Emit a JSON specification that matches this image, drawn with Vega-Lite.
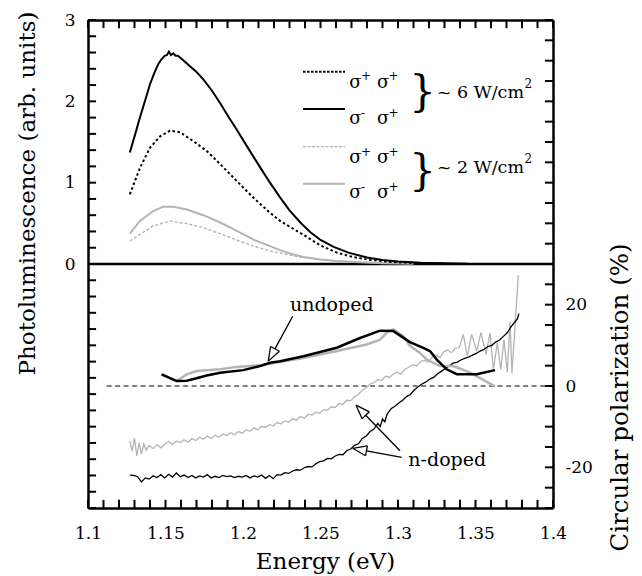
{
  "$schema": "https://vega.github.io/schema/vega-lite/v6.json",
  "width": 465,
  "height": 488,
  "autosize": "none",
  "padding": {"left": 88, "top": 20, "right": 89, "bottom": 68},
  "background": "white",
  "config": {
    "font": "DejaVu Serif",
    "view": {"stroke": null},
    "axis": {
      "labelFont": "DejaVu Serif",
      "titleFont": "DejaVu Serif",
      "labelFontSize": 17,
      "titleFontSize": 23,
      "titleFontWeight": "normal",
      "labelColor": "black",
      "titleColor": "black",
      "domainColor": "black",
      "domainWidth": 2.5,
      "ticks": false,
      "tickSize": 0,
      "grid": false,
      "labelFlush": false,
      "labelOverlap": false
    }
  },
  "datasets": {
    "xtick": [
      {"e":1.1,"pl":-3,"pl2":-2.9},{"e":1.11,"pl":-3,"pl2":-2.9},{"e":1.12,"pl":-3,"pl2":-2.9},{"e":1.13,"pl":-3,"pl2":-2.9},
      {"e":1.14,"pl":-3,"pl2":-2.9},{"e":1.15,"pl":-3,"pl2":-2.9},{"e":1.16,"pl":-3,"pl2":-2.9},{"e":1.17,"pl":-3,"pl2":-2.9},
      {"e":1.18,"pl":-3,"pl2":-2.9},{"e":1.19,"pl":-3,"pl2":-2.9},{"e":1.2,"pl":-3,"pl2":-2.9},{"e":1.21,"pl":-3,"pl2":-2.9},
      {"e":1.22,"pl":-3,"pl2":-2.9},{"e":1.23,"pl":-3,"pl2":-2.9},{"e":1.24,"pl":-3,"pl2":-2.9},{"e":1.25,"pl":-3,"pl2":-2.9},
      {"e":1.26,"pl":-3,"pl2":-2.9},{"e":1.27,"pl":-3,"pl2":-2.9},{"e":1.28,"pl":-3,"pl2":-2.9},{"e":1.29,"pl":-3,"pl2":-2.9},
      {"e":1.3,"pl":-3,"pl2":-2.9},{"e":1.31,"pl":-3,"pl2":-2.9},{"e":1.32,"pl":-3,"pl2":-2.9},{"e":1.33,"pl":-3,"pl2":-2.9},
      {"e":1.34,"pl":-3,"pl2":-2.9},{"e":1.35,"pl":-3,"pl2":-2.9},{"e":1.36,"pl":-3,"pl2":-2.9},{"e":1.37,"pl":-3,"pl2":-2.9},
      {"e":1.38,"pl":-3,"pl2":-2.9},{"e":1.39,"pl":-3,"pl2":-2.9},{"e":1.4,"pl":-3,"pl2":-2.9},
      {"e":1.1,"pl":3,"pl2":2.9},{"e":1.11,"pl":3,"pl2":2.9},{"e":1.12,"pl":3,"pl2":2.9},{"e":1.13,"pl":3,"pl2":2.9},
      {"e":1.14,"pl":3,"pl2":2.9},{"e":1.15,"pl":3,"pl2":2.9},{"e":1.16,"pl":3,"pl2":2.9},{"e":1.17,"pl":3,"pl2":2.9},
      {"e":1.18,"pl":3,"pl2":2.9},{"e":1.19,"pl":3,"pl2":2.9},{"e":1.2,"pl":3,"pl2":2.9},{"e":1.21,"pl":3,"pl2":2.9},
      {"e":1.22,"pl":3,"pl2":2.9},{"e":1.23,"pl":3,"pl2":2.9},{"e":1.24,"pl":3,"pl2":2.9},{"e":1.25,"pl":3,"pl2":2.9},
      {"e":1.26,"pl":3,"pl2":2.9},{"e":1.27,"pl":3,"pl2":2.9},{"e":1.28,"pl":3,"pl2":2.9},{"e":1.29,"pl":3,"pl2":2.9},
      {"e":1.3,"pl":3,"pl2":2.9},{"e":1.31,"pl":3,"pl2":2.9},{"e":1.32,"pl":3,"pl2":2.9},{"e":1.33,"pl":3,"pl2":2.9},
      {"e":1.34,"pl":3,"pl2":2.9},{"e":1.35,"pl":3,"pl2":2.9},{"e":1.36,"pl":3,"pl2":2.9},{"e":1.37,"pl":3,"pl2":2.9},
      {"e":1.38,"pl":3,"pl2":2.9},{"e":1.39,"pl":3,"pl2":2.9},{"e":1.4,"pl":3,"pl2":2.9}
    ],
    "ltick": [
      {"e":1.1,"e2":1.1052,"pl":-3},{"e":1.1,"e2":1.1052,"pl":-2.8},{"e":1.1,"e2":1.1052,"pl":-2.6},{"e":1.1,"e2":1.1052,"pl":-2.4},
      {"e":1.1,"e2":1.1052,"pl":-2.2},{"e":1.1,"e2":1.1052,"pl":-2},{"e":1.1,"e2":1.1052,"pl":-1.8},{"e":1.1,"e2":1.1052,"pl":-1.6},
      {"e":1.1,"e2":1.1052,"pl":-1.4},{"e":1.1,"e2":1.1052,"pl":-1.2},{"e":1.1,"e2":1.1052,"pl":-1},{"e":1.1,"e2":1.1052,"pl":-0.8},
      {"e":1.1,"e2":1.1052,"pl":-0.6},{"e":1.1,"e2":1.1052,"pl":-0.4},{"e":1.1,"e2":1.1052,"pl":-0.2},{"e":1.1,"e2":1.1052,"pl":0},
      {"e":1.1,"e2":1.1052,"pl":0.2},{"e":1.1,"e2":1.1052,"pl":0.4},{"e":1.1,"e2":1.1052,"pl":0.6},{"e":1.1,"e2":1.1052,"pl":0.8},
      {"e":1.1,"e2":1.1052,"pl":1},{"e":1.1,"e2":1.1052,"pl":1.2},{"e":1.1,"e2":1.1052,"pl":1.4},{"e":1.1,"e2":1.1052,"pl":1.6},
      {"e":1.1,"e2":1.1052,"pl":1.8},{"e":1.1,"e2":1.1052,"pl":2},{"e":1.1,"e2":1.1052,"pl":2.2},{"e":1.1,"e2":1.1052,"pl":2.4},
      {"e":1.1,"e2":1.1052,"pl":2.6},{"e":1.1,"e2":1.1052,"pl":2.8},{"e":1.1,"e2":1.1052,"pl":3}
    ],
    "rtick": [
      {"e":1.3948,"e2":1.4,"cp":-30},{"e":1.3948,"e2":1.4,"cp":-25},{"e":1.3948,"e2":1.4,"cp":-20},{"e":1.3948,"e2":1.4,"cp":-15},
      {"e":1.3948,"e2":1.4,"cp":-10},{"e":1.3948,"e2":1.4,"cp":-5},{"e":1.3948,"e2":1.4,"cp":0},{"e":1.3948,"e2":1.4,"cp":5},
      {"e":1.3948,"e2":1.4,"cp":10},{"e":1.3948,"e2":1.4,"cp":15},{"e":1.3948,"e2":1.4,"cp":20},{"e":1.3948,"e2":1.4,"cp":25},
      {"e":1.3948,"e2":1.4,"cp":30},{"e":1.3948,"e2":1.4,"cp":35},{"e":1.3948,"e2":1.4,"cp":40},{"e":1.3948,"e2":1.4,"cp":45},
      {"e":1.3948,"e2":1.4,"cp":50},{"e":1.3948,"e2":1.4,"cp":55},{"e":1.3948,"e2":1.4,"cp":60},{"e":1.3948,"e2":1.4,"cp":65},
      {"e":1.3948,"e2":1.4,"cp":70},{"e":1.3948,"e2":1.4,"cp":75},{"e":1.3948,"e2":1.4,"cp":80},{"e":1.3948,"e2":1.4,"cp":85},
      {"e":1.3948,"e2":1.4,"cp":90}
    ],
    "k6s": [
      {"e":1.127,"pl":1.37},{"e":1.1305,"pl":1.60},{"e":1.1335,"pl":1.80},{"e":1.137,"pl":2.02},{"e":1.140,"pl":2.21},
      {"e":1.1428,"pl":2.35},{"e":1.1454,"pl":2.46},{"e":1.1475,"pl":2.52},{"e":1.1495,"pl":2.56},{"e":1.151,"pl":2.57},
      {"e":1.1522,"pl":2.61},{"e":1.1535,"pl":2.57},{"e":1.155,"pl":2.59},{"e":1.1565,"pl":2.56},{"e":1.158,"pl":2.56},
      {"e":1.1618,"pl":2.50},{"e":1.1658,"pl":2.43},{"e":1.170,"pl":2.36},{"e":1.1744,"pl":2.27},{"e":1.180,"pl":2.13},
      {"e":1.1852,"pl":1.98},{"e":1.190,"pl":1.83},{"e":1.196,"pl":1.65},{"e":1.2015,"pl":1.48},{"e":1.2067,"pl":1.32},
      {"e":1.212,"pl":1.16},{"e":1.2174,"pl":1.00},{"e":1.2239,"pl":0.82},{"e":1.230,"pl":0.66},{"e":1.237,"pl":0.51},
      {"e":1.2435,"pl":0.39},{"e":1.25,"pl":0.295},{"e":1.2585,"pl":0.21},{"e":1.268,"pl":0.14},{"e":1.28,"pl":0.08},
      {"e":1.29,"pl":0.05},{"e":1.30,"pl":0.03},{"e":1.315,"pl":0.015},{"e":1.33,"pl":0.008},{"e":1.345,"pl":0.003}
    ],
    "k6d": [
      {"e":1.127,"pl":0.857},{"e":1.1335,"pl":1.18},{"e":1.140,"pl":1.43},{"e":1.1465,"pl":1.57},{"e":1.1529,"pl":1.64},
      {"e":1.1594,"pl":1.62},{"e":1.168,"pl":1.51},{"e":1.1766,"pl":1.39},{"e":1.1852,"pl":1.23},{"e":1.196,"pl":1.02},
      {"e":1.2067,"pl":0.815},{"e":1.2174,"pl":0.63},{"e":1.2239,"pl":0.53},{"e":1.23,"pl":0.46},{"e":1.239,"pl":0.36},
      {"e":1.2497,"pl":0.23},{"e":1.2605,"pl":0.14},{"e":1.271,"pl":0.085},{"e":1.282,"pl":0.05},{"e":1.295,"pl":0.025},
      {"e":1.31,"pl":0.012},{"e":1.33,"pl":0.004}
    ],
    "g2s": [
      {"e":1.127,"pl":0.373},{"e":1.1335,"pl":0.53},{"e":1.142,"pl":0.65},{"e":1.1486,"pl":0.705},{"e":1.155,"pl":0.705},
      {"e":1.1637,"pl":0.67},{"e":1.1744,"pl":0.60},{"e":1.1852,"pl":0.51},{"e":1.196,"pl":0.406},{"e":1.2067,"pl":0.30},
      {"e":1.2174,"pl":0.22},{"e":1.2239,"pl":0.17},{"e":1.232,"pl":0.12},{"e":1.239,"pl":0.085},{"e":1.25,"pl":0.055},
      {"e":1.26,"pl":0.037},{"e":1.275,"pl":0.02},{"e":1.29,"pl":0.01},{"e":1.31,"pl":0.004}
    ],
    "g2d": [
      {"e":1.127,"pl":0.283},{"e":1.1335,"pl":0.365},{"e":1.142,"pl":0.467},{"e":1.1529,"pl":0.53},{"e":1.1637,"pl":0.496},
      {"e":1.1744,"pl":0.447},{"e":1.1852,"pl":0.373},{"e":1.196,"pl":0.295},{"e":1.2067,"pl":0.22},{"e":1.2174,"pl":0.16},
      {"e":1.2239,"pl":0.135},{"e":1.235,"pl":0.09},{"e":1.25,"pl":0.055},{"e":1.265,"pl":0.032},{"e":1.28,"pl":0.018},
      {"e":1.30,"pl":0.008}
    ],
    "ub": [
      {"e":1.1475,"cp":2.86},{"e":1.1572,"cp":1.22},{"e":1.1637,"cp":1.3},{"e":1.170,"cp":1.9},{"e":1.1766,"cp":2.6},
      {"e":1.1852,"cp":3.28},{"e":1.2002,"cp":3.9},{"e":1.211,"cp":4.9},{"e":1.2174,"cp":5.7},{"e":1.2239,"cp":6.1},
      {"e":1.239,"cp":7.3},{"e":1.2605,"cp":9.4},{"e":1.2755,"cp":11.8},{"e":1.2884,"cp":13.6},{"e":1.297,"cp":13.5},
      {"e":1.3077,"cp":10.8},{"e":1.3163,"cp":9.4},{"e":1.3206,"cp":8.6},{"e":1.325,"cp":6.5},{"e":1.3314,"cp":4.1},
      {"e":1.3379,"cp":2.9},{"e":1.3508,"cp":2.9},{"e":1.3626,"cp":3.9}
    ],
    "ug": [
      {"e":1.1475,"cp":2.86},{"e":1.1572,"cp":1.22},{"e":1.1637,"cp":2.86},{"e":1.1701,"cp":3.67},{"e":1.1852,"cp":4.1},
      {"e":1.196,"cp":4.7},{"e":1.211,"cp":5.1},{"e":1.2239,"cp":5.9},{"e":1.239,"cp":6.9},{"e":1.2605,"cp":8.6},
      {"e":1.2798,"cp":10.2},{"e":1.2884,"cp":11.4},{"e":1.2938,"cp":13.5},{"e":1.297,"cp":13.9},{"e":1.3035,"cp":12.2},
      {"e":1.3077,"cp":9.9},{"e":1.314,"cp":8.2},{"e":1.3185,"cp":6.5},{"e":1.3271,"cp":4.9},{"e":1.3357,"cp":4.9},
      {"e":1.3465,"cp":3.3},{"e":1.3626,"cp":-0.1}
    ],
    "nb": [
      {"e":1.1270,"cp":-21.9},{"e":1.1295,"cp":-22.0},{"e":1.1320,"cp":-22.3},{"e":1.1345,"cp":-23.6},{"e":1.1370,"cp":-22.6},
      {"e":1.1395,"cp":-22.9},{"e":1.1420,"cp":-22.1},{"e":1.1445,"cp":-22.5},{"e":1.1470,"cp":-21.8},{"e":1.1495,"cp":-22.6},
      {"e":1.1520,"cp":-21.7},{"e":1.1545,"cp":-22.4},{"e":1.1570,"cp":-21.4},{"e":1.1595,"cp":-22.3},{"e":1.1620,"cp":-21.9},
      {"e":1.1645,"cp":-22.5},{"e":1.1670,"cp":-22.0},{"e":1.1695,"cp":-22.6},{"e":1.1720,"cp":-22.1},{"e":1.1745,"cp":-22.4},
      {"e":1.1770,"cp":-21.8},{"e":1.1795,"cp":-22.6},{"e":1.1820,"cp":-22.2},{"e":1.1845,"cp":-22.5},{"e":1.1870,"cp":-22.0},
      {"e":1.1895,"cp":-22.3},{"e":1.1920,"cp":-22.1},{"e":1.1945,"cp":-22.5},{"e":1.1970,"cp":-22.2},{"e":1.1995,"cp":-22.4},
      {"e":1.2020,"cp":-22.0},{"e":1.2045,"cp":-22.6},{"e":1.2070,"cp":-22.1},{"e":1.2095,"cp":-22.4},{"e":1.2120,"cp":-21.9},
      {"e":1.2145,"cp":-22.7},{"e":1.2170,"cp":-22.0},{"e":1.2195,"cp":-22.8},{"e":1.2220,"cp":-21.8},{"e":1.2245,"cp":-21.9},
      {"e":1.2270,"cp":-21.3},{"e":1.2295,"cp":-21.5},{"e":1.2320,"cp":-20.9},{"e":1.2345,"cp":-20.6},{"e":1.2370,"cp":-20.7},
      {"e":1.2395,"cp":-20.1},{"e":1.2420,"cp":-19.8},{"e":1.2445,"cp":-19.9},{"e":1.2470,"cp":-19.1},{"e":1.2495,"cp":-18.6},
      {"e":1.2520,"cp":-18.4},{"e":1.2545,"cp":-17.8},{"e":1.2570,"cp":-17.9},{"e":1.2595,"cp":-17.2},{"e":1.2620,"cp":-16.8},
      {"e":1.2645,"cp":-16.9},{"e":1.2670,"cp":-15.9},{"e":1.2695,"cp":-15.5},{"e":1.2720,"cp":-14.6},{"e":1.2745,"cp":-14.2},
      {"e":1.2770,"cp":-12.9},{"e":1.2795,"cp":-12.3},{"e":1.2820,"cp":-11.2},{"e":1.2845,"cp":-10.6},{"e":1.2870,"cp":-9.2},
      {"e":1.2885,"cp":-10.0},{"e":1.2900,"cp":-8.1},{"e":1.2915,"cp":-8.8},{"e":1.2930,"cp":-6.9},{"e":1.2955,"cp":-5.6},
      {"e":1.2980,"cp":-5.0},{"e":1.3005,"cp":-4.2},{"e":1.3030,"cp":-3.5},{"e":1.3055,"cp":-2.6},{"e":1.3080,"cp":-2.1},
      {"e":1.3105,"cp":-1.0},{"e":1.3130,"cp":-0.2},{"e":1.3155,"cp":0.5},{"e":1.3180,"cp":1.0},{"e":1.3205,"cp":1.7},
      {"e":1.3230,"cp":2.1},{"e":1.3255,"cp":3.0},{"e":1.3280,"cp":3.6},{"e":1.3305,"cp":4.3},{"e":1.3330,"cp":4.9},
      {"e":1.3355,"cp":5.6},{"e":1.3380,"cp":5.8},{"e":1.3405,"cp":6.4},{"e":1.3430,"cp":6.8},{"e":1.3455,"cp":7.1},
      {"e":1.3480,"cp":7.6},{"e":1.3505,"cp":8.0},{"e":1.3530,"cp":8.6},{"e":1.3555,"cp":9.0},{"e":1.3580,"cp":9.7},
      {"e":1.3605,"cp":10.0},{"e":1.3630,"cp":10.8},{"e":1.3655,"cp":11.3},{"e":1.3680,"cp":12.2},{"e":1.3705,"cp":13.1},
      {"e":1.3730,"cp":14.6},{"e":1.3755,"cp":15.8},{"e":1.3770,"cp":16.5},{"e":1.3780,"cp":17.8}
    ],
    "ng": [
      {"e":1.1270,"cp":-13.5},{"e":1.1285,"cp":-16.0},{"e":1.1300,"cp":-12.8},{"e":1.1315,"cp":-17.2},{"e":1.1330,"cp":-14.0},
      {"e":1.1345,"cp":-16.8},{"e":1.1360,"cp":-14.2},{"e":1.1375,"cp":-15.8},{"e":1.1395,"cp":-14.6},{"e":1.1420,"cp":-15.4},
      {"e":1.1445,"cp":-14.4},{"e":1.1470,"cp":-15.2},{"e":1.1495,"cp":-14.3},{"e":1.1520,"cp":-13.6},{"e":1.1545,"cp":-14.4},
      {"e":1.1570,"cp":-13.5},{"e":1.1595,"cp":-13.9},{"e":1.1620,"cp":-13.2},{"e":1.1645,"cp":-13.8},{"e":1.1670,"cp":-12.9},
      {"e":1.1695,"cp":-13.4},{"e":1.1720,"cp":-12.6},{"e":1.1745,"cp":-13.1},{"e":1.1770,"cp":-12.3},{"e":1.1795,"cp":-12.9},
      {"e":1.1820,"cp":-12.1},{"e":1.1845,"cp":-12.6},{"e":1.1870,"cp":-11.8},{"e":1.1895,"cp":-12.2},{"e":1.1920,"cp":-11.5},
      {"e":1.1945,"cp":-12.0},{"e":1.1970,"cp":-11.2},{"e":1.1995,"cp":-11.6},{"e":1.2020,"cp":-10.8},{"e":1.2045,"cp":-11.1},
      {"e":1.2070,"cp":-10.3},{"e":1.2095,"cp":-10.8},{"e":1.2120,"cp":-9.9},{"e":1.2145,"cp":-10.2},{"e":1.2170,"cp":-9.5},
      {"e":1.2195,"cp":-9.8},{"e":1.2220,"cp":-9.0},{"e":1.2245,"cp":-9.3},{"e":1.2270,"cp":-8.6},{"e":1.2295,"cp":-8.9},
      {"e":1.2320,"cp":-8.0},{"e":1.2345,"cp":-8.4},{"e":1.2370,"cp":-7.5},{"e":1.2395,"cp":-7.9},{"e":1.2420,"cp":-7.0},
      {"e":1.2445,"cp":-7.1},{"e":1.2470,"cp":-6.4},{"e":1.2495,"cp":-6.7},{"e":1.2520,"cp":-5.8},{"e":1.2545,"cp":-6.0},
      {"e":1.2570,"cp":-5.1},{"e":1.2595,"cp":-5.3},{"e":1.2620,"cp":-4.3},{"e":1.2645,"cp":-4.5},{"e":1.2670,"cp":-3.5},
      {"e":1.2695,"cp":-3.6},{"e":1.2720,"cp":-2.6},{"e":1.2745,"cp":-2.1},{"e":1.2770,"cp":-1.0},{"e":1.2795,"cp":-0.4},
      {"e":1.2820,"cp":0.5},{"e":1.2845,"cp":0.8},{"e":1.2870,"cp":1.6},{"e":1.2895,"cp":1.4},{"e":1.2920,"cp":2.4},
      {"e":1.2945,"cp":2.1},{"e":1.2970,"cp":3.0},{"e":1.2995,"cp":3.4},{"e":1.3020,"cp":2.9},{"e":1.3045,"cp":4.2},
      {"e":1.3070,"cp":4.6},{"e":1.3095,"cp":5.3},{"e":1.3120,"cp":4.9},{"e":1.3145,"cp":6.0},{"e":1.3170,"cp":6.3},
      {"e":1.3195,"cp":5.9},{"e":1.3220,"cp":7.1},{"e":1.3245,"cp":7.6},{"e":1.3270,"cp":7.0},{"e":1.3295,"cp":8.4},
      {"e":1.3320,"cp":8.9},{"e":1.3345,"cp":8.2},{"e":1.3370,"cp":9.3},{"e":1.3395,"cp":9.4},{"e":1.3421,"cp":12.7},
      {"e":1.3447,"cp":7.3},{"e":1.3475,"cp":12.7},{"e":1.3508,"cp":8.6},{"e":1.3535,"cp":13.1},{"e":1.3568,"cp":7.8},
      {"e":1.3594,"cp":13.1},{"e":1.3615,"cp":4.1},{"e":1.3641,"cp":10.6},{"e":1.3663,"cp":4.1},{"e":1.3684,"cp":11.4},
      {"e":1.3705,"cp":3.4},{"e":1.3723,"cp":15.9},{"e":1.3735,"cp":3.1},{"e":1.3755,"cp":14.7},{"e":1.3776,"cp":27.3}
    ],
    "sig": [
      {"e":1.26858,"pl":2.165,"t":"σ"},{"e":1.28645,"pl":2.165,"t":"σ"},
      {"e":1.26858,"pl":1.718,"t":"σ"},{"e":1.28645,"pl":1.718,"t":"σ"},
      {"e":1.26858,"pl":1.239,"t":"σ"},{"e":1.28645,"pl":1.239,"t":"σ"},
      {"e":1.26858,"pl":0.808,"t":"σ"},{"e":1.28645,"pl":0.808,"t":"σ"}
    ],
    "sup": [
      {"e":1.27613,"pl":2.257,"t":"+"},{"e":1.29387,"pl":2.257,"t":"+"},
      {"e":1.27613,"pl":1.810,"t":"-"},{"e":1.29387,"pl":1.810,"t":"+"},
      {"e":1.27613,"pl":1.331,"t":"+"},{"e":1.29387,"pl":1.331,"t":"+"},
      {"e":1.27613,"pl":0.900,"t":"-"},{"e":1.29387,"pl":0.900,"t":"+"}
    ],
    "brace": [
      {"e":1.3158,"pl":1.944,"t":"}"},{"e":1.3158,"pl":0.975,"t":"}"}
    ],
    "power": [
      {"e":1.38129,"pl":2.046,"t":"~ 6 W/cm"},{"e":1.38129,"pl":1.123,"t":"~ 2 W/cm"}
    ],
    "powsup": [
      {"e":1.3816,"pl":2.166,"t":"2"},{"e":1.3816,"pl":1.243,"t":"2"}
    ],
    "notes": [
      {"e":1.2303,"cp":18.36,"t":"undoped"},{"e":1.30665,"cp":-19.58,"t":"n-doped"}
    ],
    "arrows": [
      {"e":1.23206,"cp":17.14,"e2":1.22062,"cp2":9.13},
      {"e":1.21632,"cp":6.12,"e2":1.22346,"cp2":8.55},
      {"e":1.21632,"cp":6.12,"e2":1.21779,"cp2":9.71},
      {"e":1.22346,"cp":8.55,"e2":1.21779,"cp2":9.71},
      {"e":1.30239,"cp":-17.53,"e2":1.27966,"cp2":-15.94},
      {"e":1.27077,"cp":-15.32,"e2":1.28024,"cp2":-14.74},
      {"e":1.27077,"cp":-15.32,"e2":1.27908,"cp2":-17.15},
      {"e":1.28024,"cp":-14.74,"e2":1.27908,"cp2":-17.15},
      {"e":1.30129,"cp":-15.91,"e2":1.27917,"cp2":-7.19},
      {"e":1.27290,"cp":-4.72,"e2":1.28149,"cp2":-6.35},
      {"e":1.27290,"cp":-4.72,"e2":1.27685,"cp2":-8.04},
      {"e":1.28149,"cp":-6.35,"e2":1.27685,"cp2":-8.04}
    ]
  },
  "layer": [
    {
      "encoding": {
        "x": {
          "field": "e", "type": "quantitative",
          "scale": {"domain": [1.1, 1.4], "nice": false, "zero": false},
          "axis": {
            "orient": "bottom",
            "title": "Energy (eV)",
            "values": [1.1,1.15,1.2,1.25,1.3,1.35,1.4],
            "labelExpr": "format(datum.value, '.2~f')",
            "labelPadding": 17,
            "labelBaseline": "top",
            "titleX": 237,
            "titleY": 60,
            "titleAlign": "center",
            "titleBaseline": "alphabetic"
          }
        },
        "y": {
          "field": "pl", "type": "quantitative",
          "scale": {"domain": [-3, 3], "nice": false, "zero": false},
          "axis": {
            "orient": "left",
            "title": "Photoluminescence (arb. units)",
            "values": [0, 1, 2, 3],
            "labelExpr": "format(datum.value, 'd')",
            "labelPadding": 13,
            "titleAngle": 270,
            "titleX": -61,
            "titleY": 173,
            "titleAlign": "center",
            "titleBaseline": "middle"
          }
        }
      },
      "layer": [
        {"data": {"values": [{"e": 1.1, "e2": 1.4, "pl": 0}]}, "mark": {"type": "rule", "color": "black", "strokeWidth": 2.5}, "encoding": {"x2": {"field": "e2"}}},
        {"data": {"name": "g2d"}, "mark": {"type": "line", "color": "#b4b4b4", "strokeWidth": 1.4, "strokeDash": [3, 2]}},
        {"data": {"name": "g2s"}, "mark": {"type": "line", "color": "#b4b4b4", "strokeWidth": 2}},
        {"data": {"name": "k6d"}, "mark": {"type": "line", "color": "black", "strokeWidth": 2, "strokeDash": [2.5, 2.5]}},
        {"data": {"name": "k6s"}, "mark": {"type": "line", "color": "black", "strokeWidth": 2}},
        {"data": {"values": [{"e": 1.2387, "e2": 1.2658, "pl": 2.365}]}, "mark": {"type": "rule", "color": "black", "strokeWidth": 2, "strokeDash": [2.5, 1.5]}, "encoding": {"x2": {"field": "e2"}}},
        {"data": {"values": [{"e": 1.2387, "e2": 1.2658, "pl": 1.906}]}, "mark": {"type": "rule", "color": "black", "strokeWidth": 2}, "encoding": {"x2": {"field": "e2"}}},
        {"data": {"values": [{"e": 1.2387, "e2": 1.2658, "pl": 1.443}]}, "mark": {"type": "rule", "color": "#b4b4b4", "strokeWidth": 1.4, "strokeDash": [3, 1.5]}, "encoding": {"x2": {"field": "e2"}}},
        {"data": {"values": [{"e": 1.2387, "e2": 1.2658, "pl": 0.988}]}, "mark": {"type": "rule", "color": "#b4b4b4", "strokeWidth": 2}, "encoding": {"x2": {"field": "e2"}}},
        {"data": {"name": "sig"}, "mark": {"type": "text", "align": "left", "baseline": "alphabetic", "fontSize": 18, "font": "DejaVu Serif", "color": "black"}, "encoding": {"text": {"field": "t"}}},
        {"data": {"name": "sup"}, "mark": {"type": "text", "align": "left", "baseline": "alphabetic", "fontSize": 12, "font": "DejaVu Serif", "color": "black"}, "encoding": {"text": {"field": "t"}}},
        {"data": {"name": "brace"}, "mark": {"type": "text", "align": "center", "baseline": "alphabetic", "fontSize": 42, "font": "DejaVu Serif", "color": "black"}, "encoding": {"text": {"field": "t"}}},
        {"data": {"name": "power"}, "mark": {"type": "text", "align": "right", "baseline": "alphabetic", "fontSize": 17.5, "font": "DejaVu Serif", "color": "black"}, "encoding": {"text": {"field": "t"}}},
        {"data": {"name": "powsup"}, "mark": {"type": "text", "align": "left", "baseline": "alphabetic", "fontSize": 12, "font": "DejaVu Serif", "color": "black"}, "encoding": {"text": {"field": "t"}}},
        {"data": {"name": "xtick"}, "mark": {"type": "rule", "color": "#000000", "strokeWidth": 2, "opacity": 1, "strokeCap": "butt"}, "encoding": {"y2": {"field": "pl2"}}},
        {"data": {"name": "ltick"}, "mark": {"type": "rule", "color": "#000000", "strokeWidth": 2, "opacity": 1, "strokeCap": "butt"}, "encoding": {"x2": {"field": "e2"}}}
      ]
    },
    {
      "encoding": {
        "x": {
          "field": "e", "type": "quantitative",
          "scale": {"domain": [1.1, 1.4], "nice": false, "zero": false},
          "axis": {"orient": "top", "title": null, "labels": false, "values": [1.1, 1.4]}
        },
        "y": {
          "field": "cp", "type": "quantitative",
          "scale": {"domain": [-30, 90], "nice": false, "zero": false},
          "axis": {
            "orient": "right",
            "title": "Circular polarization (%)",
            "values": [-20, 0, 20],
            "labelExpr": "datum.value == 20 ? '20' : datum.value == 0 ? '0' : '-20'",
            "labelPadding": 12,
            "titleFontSize": 24.5,
            "titleAngle": 270,
            "titleX": 67,
            "titleY": 377,
            "titleAlign": "center",
            "titleBaseline": "middle"
          }
        }
      },
      "layer": [
        {"data": {"values": [{"e": 1.112, "e2": 1.4, "cp": 0}]}, "mark": {"type": "rule", "color": "black", "strokeWidth": 1, "strokeDash": [5, 3.5]}, "encoding": {"x2": {"field": "e2"}}},
        {"data": {"name": "ng"}, "mark": {"type": "line", "color": "#b4b4b4", "strokeWidth": 1.3}},
        {"data": {"name": "nb"}, "mark": {"type": "line", "color": "black", "strokeWidth": 1.3}},
        {"data": {"name": "ug"}, "mark": {"type": "line", "color": "#b4b4b4", "strokeWidth": 2.5}},
        {"data": {"name": "ub"}, "mark": {"type": "line", "color": "black", "strokeWidth": 2.5}},
        {"data": {"name": "arrows"}, "mark": {"type": "rule", "color": "black", "strokeWidth": 1.3}, "encoding": {"x2": {"field": "e2"}, "y2": {"field": "cp2"}}},
        {"data": {"name": "notes"}, "mark": {"type": "text", "align": "left", "baseline": "alphabetic", "fontSize": 19, "font": "DejaVu Serif", "color": "black"}, "encoding": {"text": {"field": "t"}}},
        {"data": {"name": "rtick"}, "mark": {"type": "rule", "color": "#000000", "strokeWidth": 2, "opacity": 1, "strokeCap": "butt"}, "encoding": {"x2": {"field": "e2"}}}
      ]
    }
  ],
  "resolve": {"scale": {"y": "independent"}, "axis": {"x": "independent", "y": "independent"}}
}
